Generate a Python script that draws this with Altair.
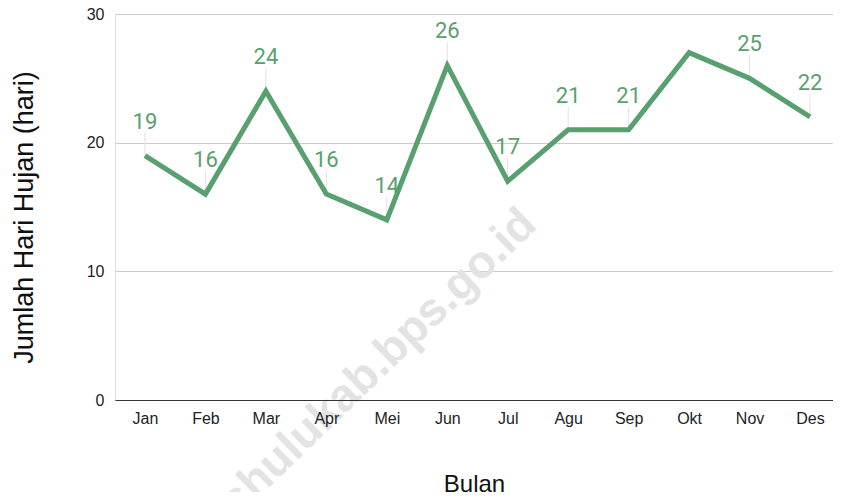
import altair as alt
import pandas as pd

months = ["Jan", "Feb", "Mar", "Apr", "Mei", "Jun", "Jul", "Agu", "Sep", "Okt", "Nov", "Des"]
values = [19, 16, 24, 16, 14, 26, 17, 21, 21, 27, 25, 22]
labels = ["19", "16", "24", "16", "14", "26", "17", "21", "21", "", "25", "22"]

df = pd.DataFrame({"Bulan": months, "Hari": values, "Label": labels})

GREEN = "#59a06f"
W, H = 718, 386

x = alt.X("Bulan:N", sort=months,
          scale=alt.Scale(type="point", padding=0.438, align=0.566),
          axis=alt.Axis(title="Bulan", labelAngle=0, labelFont="Liberation Sans",
                        labelFontSize=16, labelColor="#222", labelPadding=10,
                        ticks=False, domain=True, domainColor="#333", domainWidth=1.2,
                        grid=False, titleFont="Liberation Sans", titleFontSize=24,
                        titleFontWeight="normal", titleColor="#111", titlePadding=46,
                        zindex=1))
y = alt.Y("Hari:Q",
          scale=alt.Scale(domain=[0, 30], nice=False),
          axis=alt.Axis(title="Jumlah Hari Hujan (hari)", values=[0, 10, 20, 30],
                        labelFont="Liberation Sans", labelFontSize=16, labelColor="#222",
                        labelPadding=11, ticks=False, domain=False, grid=True,
                        gridColor="#cccccc", gridWidth=1,
                        titleFont="Liberation Sans", titleFontSize=27,
                        titleFontWeight="normal", titleColor="#111", titlePadding=48,
                        titleY=203))

base = alt.Chart(df).encode(x=x, y=y)

line = base.mark_line(color=GREEN, strokeWidth=5, strokeJoin="miter")

leaders = base.transform_filter("datum.Label != ''").mark_rule(
    color="#e6dfe0", strokeWidth=1, y2Offset=-23).encode(y2="Hari:Q")

text = base.transform_filter("datum.Label != ''").mark_text(
    color=GREEN, font="Roboto", fontSize=22, baseline="alphabetic", dy=-27).encode(
    text="Label:N")

watermark = alt.Chart(pd.DataFrame({"t": ["kapuashulukab.bps.go.id"]})).mark_text(
    font="Liberation Sans", fontSize=46, fontWeight="bold", color="#e3e3e3",
    angle=316, align="right", baseline="middle").encode(
    x=alt.value(414), y=alt.value(203), text="t:N")

chart = alt.layer(watermark, leaders, line, text).properties(
    width=W, height=H,
    autosize=alt.AutoSizeParams(type="none"),
    padding={"left": 107, "top": 6, "right": 0, "bottom": 92},
).configure_view(stroke=None).configure(background="white")

chart.save("out.html", embed_options={"renderer": "svg", "actions": False})
